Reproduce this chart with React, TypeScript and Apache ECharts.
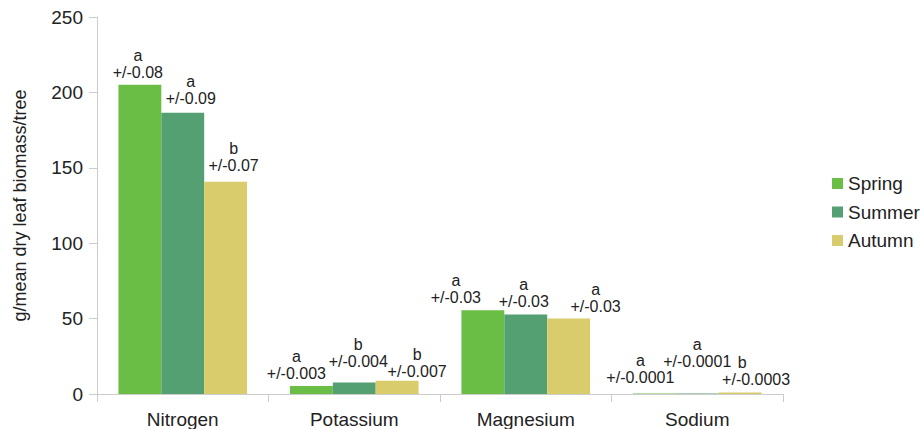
import React, { useEffect, useRef } from "react";
import * as echarts from "echarts";

const categories = ["Nitrogen", "Potassium", "Magnesium", "Sodium"];
const seriesNames = ["Spring", "Summer", "Autumn"];
const springValues = [205, 5.3, 55.6, 0.4];
const summerValues = [186.5, 7.7, 52.8, 0.4];
const autumnValues = [140.7, 8.8, 50, 1.0];
const springLetters = ["a", "a", "a", "a"];
const summerLetters = ["a", "b", "a", "a"];
const autumnLetters = ["b", "b", "a", "b"];
const springErrors = ["+/-0.08", "+/-0.003", "+/-0.03", "+/-0.0001"];
const summerErrors = ["+/-0.09", "+/-0.004", "+/-0.03", "+/-0.0001"];
const autumnErrors = ["+/-0.07", "+/-0.007", "+/-0.03", "+/-0.0003"];
const yTicks = [0, 50, 100, 150, 200, 250];

// layout only: label nudges [dx, dy, letterShift]
const springNudge = [[-2, 0, 0], [-15, 0, 0], [-27, 0, 0], [-14, -3, 0]];
const summerNudge = [[8, -2, 0], [4, -8, 0], [-2, 0, 0], [0, -19, 0]];
const autumnNudge = [[8, -4, 0], [20, 3, 0], [27, 0, 0], [16, 0, -14]];

const colors = ["#6abd45", "#55a073", "#d8cc6c"];
const FONT = "Liberation Sans, Arial, sans-serif";

function buildData(values: number[], letters: string[], errors: string[], nudge: number[][]) {
  return values.map((v, i) => {
    const [dx, dy, shift] = nudge[i];
    const pad = Math.abs(shift) * 2;
    return {
      value: v,
      label: {
        offset: [dx, dy],
        formatter: `{l|${letters[i]}}\n{e|${errors[i]}}`,
        rich: {
          l: {
            fontSize: 16,
            lineHeight: 17,
            color: "#222",
            fontFamily: FONT,
            padding: shift < 0 ? [0, pad, 0, 0] : shift > 0 ? [0, 0, 0, pad] : 0,
          },
          e: { fontSize: 16, lineHeight: 17, color: "#222", fontFamily: FONT },
        },
      },
    };
  });
}

export default function App() {
  const ref = useRef<HTMLDivElement>(null);
  useEffect(() => {
    if (!ref.current) return;
    const chart = echarts.init(ref.current, null, { renderer: "svg" });
    const labelBase = { show: true, position: "top", distance: 4, align: "center" };
    chart.setOption({
      animation: false,
      textStyle: { fontFamily: FONT },
      grid: { left: 97, right: 138, top: 17, bottom: 34, containLabel: false },
      legend: {
        orient: "vertical",
        left: 827,
        top: 169,
        itemWidth: 11,
        itemHeight: 11,
        itemGap: 9.5,
        icon: "rect",
        data: seriesNames,
        textStyle: { fontSize: 19, lineHeight: 19, color: "#222", fontFamily: FONT },
      },
      xAxis: {
        type: "category",
        data: categories,
        axisLine: { lineStyle: { color: "#cccccc", width: 1 } },
        axisTick: { show: true, length: 8, alignWithLabel: false, lineStyle: { color: "#cccccc" } },
        axisLabel: { fontSize: 19, color: "#222", margin: 16, fontFamily: FONT },
      },
      yAxis: {
        type: "value",
        min: 0,
        max: 250,
        interval: 50,
        name: "g/mean dry leaf biomass/tree",
        nameLocation: "middle",
        nameGap: 68,
        nameTextStyle: { fontSize: 18, color: "#222", fontFamily: FONT },
        axisLine: { show: true, lineStyle: { color: "#cccccc", width: 1 } },
        axisTick: { show: true, length: 8, lineStyle: { color: "#cccccc" } },
        splitLine: { show: false },
        axisLabel: {
          fontSize: 19,
          color: "#222",
          margin: 14,
          fontFamily: FONT,
          formatter: (v: number) => (yTicks.includes(v) ? String(v) : ""),
        },
      },
      series: [
        {
          name: seriesNames[0],
          type: "bar",
          barGap: "0%",
          barCategoryGap: "25%",
          itemStyle: { color: colors[0] },
          label: labelBase,
          data: buildData(springValues, springLetters, springErrors, springNudge),
        },
        {
          name: seriesNames[1],
          type: "bar",
          barGap: "0%",
          barCategoryGap: "25%",
          itemStyle: { color: colors[1] },
          label: labelBase,
          data: buildData(summerValues, summerLetters, summerErrors, summerNudge),
        },
        {
          name: seriesNames[2],
          type: "bar",
          barGap: "0%",
          barCategoryGap: "25%",
          itemStyle: { color: colors[2] },
          label: labelBase,
          data: buildData(autumnValues, autumnLetters, autumnErrors, autumnNudge),
        },
      ],
    });
    return () => chart.dispose();
  }, []);
  return (
    <div
      ref={ref}
      style={{ position: "absolute", left: 0, top: 0, width: 921, height: 429 }}
    />
  );
}
